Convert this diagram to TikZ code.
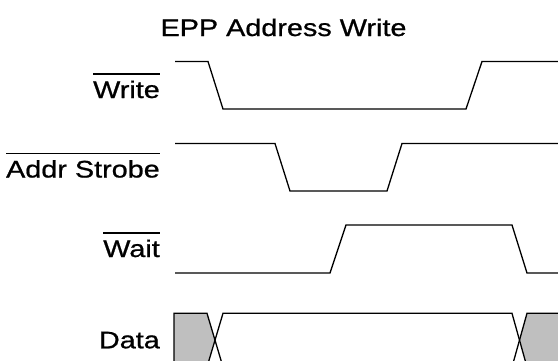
\documentclass[tikz,border=0pt]{standalone}
\usepackage{fontspec}
\usepackage{tikz}
\newfontfamily\sigfont[FakeStretch=1.2, FakeBold=0.8]{Liberation Sans}
\newcommand{\ovl}[1]{\vbox{\hrule height 1.3pt\kern 6pt\hbox{#1}}}
\tikzset{lbl/.style={inner sep=0pt, anchor=base east, font=\sigfont\fontsize{24}{28}\selectfont},
  wave/.style={line width=1.3pt, line join=miter},
  bus/.style={fill=black!25}}

\begin{document}
\begin{tikzpicture}[x=1pt, y=-1pt]
\useasboundingbox (0,0) rectangle (558,360);
\clip (0,0) rectangle (558,360);
\node[lbl, anchor=base] (title) at (283.5, 36) {EPP Address Write};
\node[lbl] (write) at (160, 98) {\ovl{Write}};
\node[lbl] (strobe) at (160, 177.5) {\ovl{Addr Strobe}};
\node[lbl] (wait) at (160, 257) {\ovl{Wait}};
\node[lbl] (data) at (160, 348.3) {Data};
\draw[wave] (175, 61.5) -- (208, 61.5) -- (223, 109) -- (466, 109) -- (482, 61.5) -- (560, 61.5);
\draw[wave] (175, 143.5) -- (275, 143.5) -- (290, 191) -- (387, 191) -- (402, 143.5) -- (560, 143.5);
\draw[wave] (175, 273) -- (330, 273) -- (346, 225) -- (512, 225) -- (527, 273) -- (560, 273);
\fill[bus] (174, 313.3) -- (207, 313.3) -- (215, 340) -- (207, 367) -- (174, 367) -- cycle;
\fill[bus] (527, 313.3) -- (562, 313.3) -- (562, 367) -- (527, 367) -- (519.5, 340) -- cycle;
\draw[wave] (174, 370) -- (174, 313.3) -- (207, 313.3) -- (223, 367);
\draw[wave] (207, 367) -- (223, 313.3) -- (512, 313.3) -- (527, 367);
\draw[wave] (512, 367) -- (527, 313.3) -- (562, 313.3);
\draw[wave] (223, 367) -- (512, 367);
\end{tikzpicture}
\end{document}
